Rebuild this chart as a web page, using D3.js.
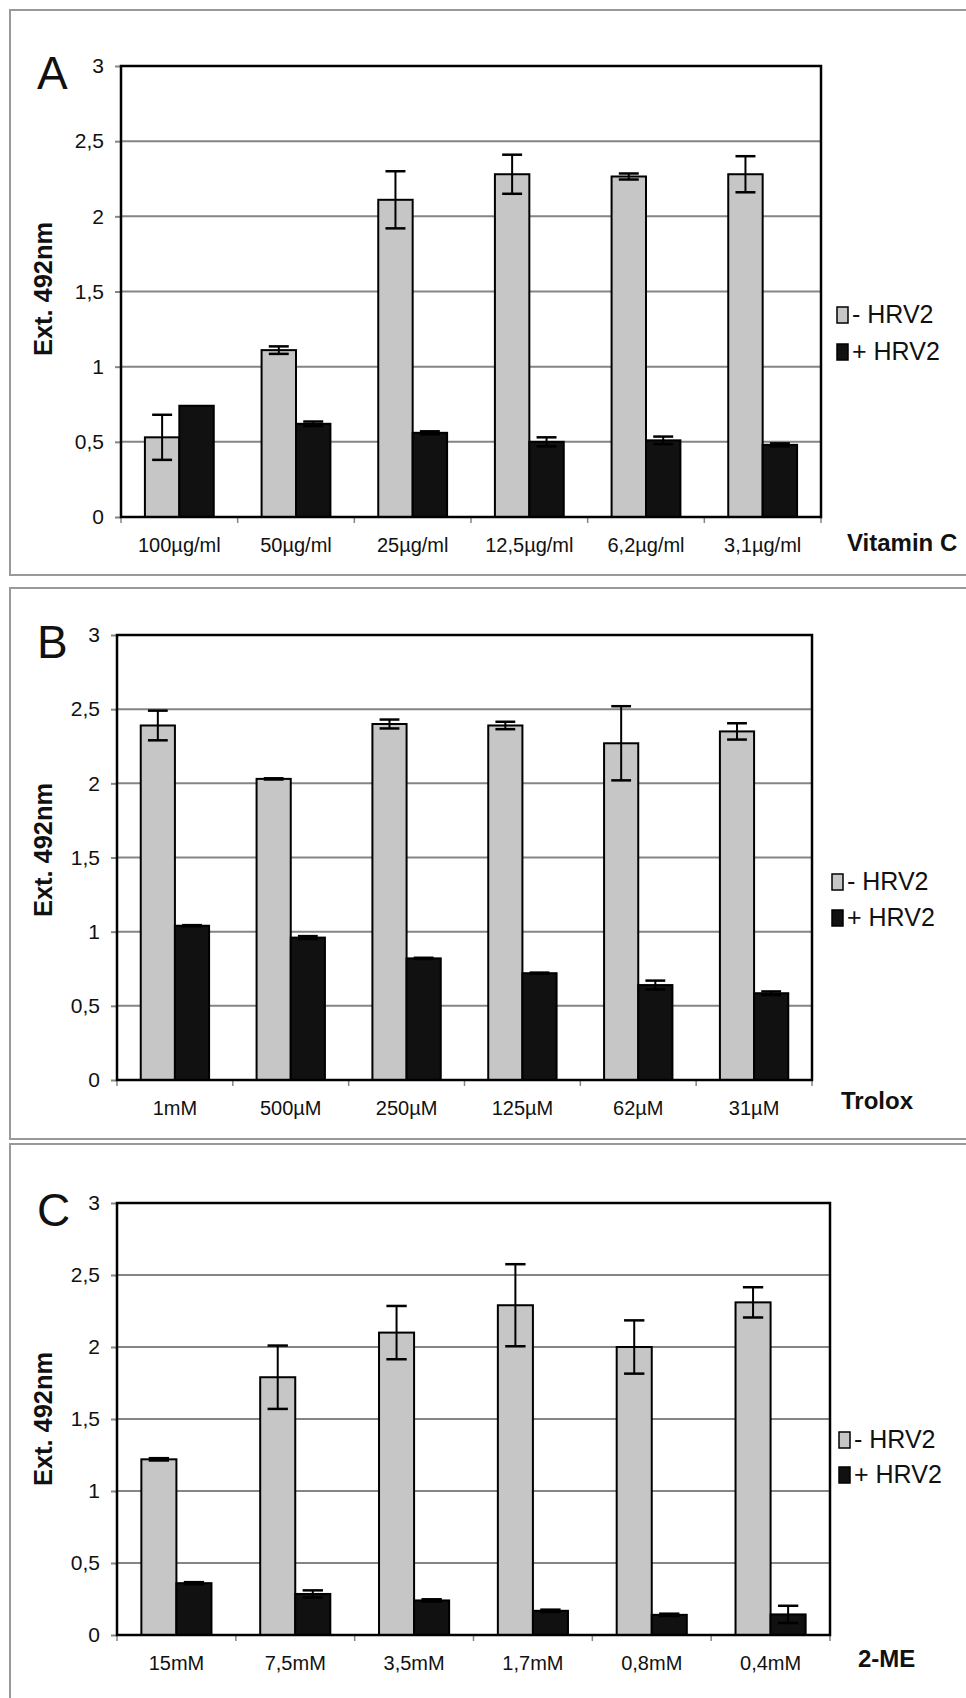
<!DOCTYPE html>
<html>
<head>
<meta charset="utf-8">
<script src="https://cdn.jsdelivr.net/npm/d3@7"></script>
<style>
  html, body { margin: 0; padding: 0; background: #fff; }
  svg { display: block; }
  text { font-family: "Liberation Sans", Arial, sans-serif; fill: #111; }
</style>
</head>
<body>
<svg id="chart" width="966" height="1698"></svg>
<script>
// ---------- DATA ----------
const seriesNames = ["- HRV2", "+ HRV2"];
const yTickValues = [0, 0.5, 1, 1.5, 2, 2.5, 3];
const yTickLabels = ["0", "0,5", "1", "1,5", "2", "2,5", "3"];

const catsA = ["100µg/ml", "50µg/ml", "25µg/ml", "12,5µg/ml", "6,2µg/ml", "3,1µg/ml"];
const minusA = [0.53, 1.11, 2.11, 2.28, 2.265, 2.28];
const minusErrA = [0.15, 0.025, 0.19, 0.13, 0.02, 0.12];
const plusA = [0.74, 0.62, 0.56, 0.50, 0.51, 0.48];
const plusErrA = [0, 0.015, 0.01, 0.03, 0.025, 0.01];

const catsB = ["1mM", "500µM", "250µM", "125µM", "62µM", "31µM"];
const minusB = [2.39, 2.03, 2.40, 2.39, 2.27, 2.35];
const minusErrB = [0.10, 0.004, 0.03, 0.025, 0.25, 0.055];
const plusB = [1.04, 0.96, 0.82, 0.72, 0.64, 0.585];
const plusErrB = [0.004, 0.01, 0.004, 0.004, 0.03, 0.012];

const catsC = ["15mM", "7,5mM", "3,5mM", "1,7mM", "0,8mM", "0,4mM"];
const minusC = [1.22, 1.79, 2.10, 2.29, 2.00, 2.31];
const minusErrC = [0.008, 0.22, 0.185, 0.285, 0.185, 0.105];
const plusC = [0.36, 0.285, 0.24, 0.168, 0.14, 0.143];
const plusErrC = [0.007, 0.025, 0.008, 0.008, 0.008, 0.06];

const panelLetters = ["A", "B", "C"];
const xAxisNames = ["Vitamin C", "Trolox", "2-ME"];
const yTitle = "Ext. 492nm";

// ---------- LAYOUT ----------
const panels = [
  { letter: panelLetters[0], name: xAxisNames[0], cats: catsA, minus: minusA, minusErr: minusErrA, plus: plusA, plusErr: plusErrA,
    frame: { top: 10, bottom: 575 }, plot: { left: 121, right: 821, top: 66, bottom: 517 },
    legend: { x: 837, b1: 323, b2: 360 }, nameX: 847, nameB: 551, titleY: 289 },
  { letter: panelLetters[1], name: xAxisNames[1], cats: catsB, minus: minusB, minusErr: minusErrB, plus: plusB, plusErr: plusErrB,
    frame: { top: 588, bottom: 1139 }, plot: { left: 117, right: 812, top: 635, bottom: 1080 },
    legend: { x: 832, b1: 890, b2: 926 }, nameX: 841, nameB: 1109, titleY: 850 },
  { letter: panelLetters[2], name: xAxisNames[2], cats: catsC, minus: minusC, minusErr: minusErrC, plus: plusC, plusErr: plusErrC,
    frame: { top: 1144, bottom: 1760 }, plot: { left: 117, right: 830, top: 1203, bottom: 1635 },
    legend: { x: 839, b1: 1448, b2: 1483 }, nameX: 858, nameB: 1667, titleY: 1419 }
];

const svg = d3.select("#chart");
const grayFill = "#c6c6c6";
const blackFill = "#111";
const FONT = '"Liberation Sans", Arial, sans-serif';

panels.forEach(p => {
  const g = svg.append("g");
  // panel frame (extends beyond right edge)
  g.append("rect")
    .attr("x", 10).attr("y", p.frame.top)
    .attr("width", 1000).attr("height", p.frame.bottom - p.frame.top)
    .attr("fill", "none").attr("stroke", "#999").attr("stroke-width", 2);

  const y = d3.scaleLinear().domain([0, 3]).range([p.plot.bottom, p.plot.top]);
  const x0 = d3.scaleBand().domain(p.cats).range([p.plot.left, p.plot.right]).paddingInner(0).paddingOuter(0);
  const band = x0.bandwidth();
  const barW = band * 0.295;
  const x1 = d3.scaleBand().domain(seriesNames).range([(band - 2 * barW) / 2, (band + 2 * barW) / 2]);

  // gridlines
  g.append("g").selectAll("line").data(yTickValues.slice(1, -1)).join("line")
    .attr("x1", p.plot.left).attr("x2", p.plot.right)
    .attr("y1", d => y(d)).attr("y2", d => y(d))
    .attr("stroke", "#858585").attr("stroke-width", 2);

  // y axis ticks & labels
  const yAxis = d3.axisLeft(y).tickValues(yTickValues)
    .tickFormat((d, i) => yTickLabels[i]).tickSize(6).tickPadding(11);
  const ya = g.append("g").attr("transform", `translate(${p.plot.left},0)`).call(yAxis);
  ya.select(".domain").remove();
  ya.selectAll(".tick line").attr("stroke", "#858585").attr("stroke-width", 2);
  ya.selectAll(".tick text").attr("font-size", 21).attr("fill", "#111").attr("font-family", FONT);

  // x axis labels, ticks at band boundaries
  const xAxis = d3.axisBottom(x0).tickSize(0).tickPadding(21);
  const xa = g.append("g").attr("transform", `translate(0,${p.plot.bottom})`).call(xAxis);
  xa.select(".domain").remove();
  xa.selectAll(".tick text").attr("font-size", 20).attr("fill", "#111").attr("font-family", FONT);
  const boundaries = p.cats.map(c => x0(c)).concat([p.plot.right]);
  g.append("g").selectAll("line").data(boundaries).join("line")
    .attr("x1", d => d).attr("x2", d => d)
    .attr("y1", p.plot.bottom).attr("y2", p.plot.bottom + 6)
    .attr("stroke", "#858585").attr("stroke-width", 1.5);

  // bars
  const rows = p.cats.map((c, i) => ({ c, s: [
    { name: seriesNames[0], v: p.minus[i], e: p.minusErr[i], fill: grayFill },
    { name: seriesNames[1], v: p.plus[i], e: p.plusErr[i], fill: blackFill }
  ] }));
  const cg = g.append("g").selectAll("g").data(rows).join("g")
    .attr("transform", d => `translate(${x0(d.c)},0)`);
  cg.selectAll("rect").data(d => d.s).join("rect")
    .attr("x", d => x1(d.name)).attr("width", x1.bandwidth())
    .attr("y", d => y(d.v)).attr("height", d => y(0) - y(d.v))
    .attr("fill", d => d.fill).attr("stroke", "#000").attr("stroke-width", 2);

  // error bars
  const capW = barW * 0.58;
  const cx = d => x1(d.name) + x1.bandwidth() / 2;
  const eg = cg.selectAll("g.err").data(d => d.s.filter(s => s.e > 0)).join("g").attr("class", "err");
  eg.append("line")
    .attr("x1", cx).attr("x2", cx)
    .attr("y1", d => y(d.v + d.e)).attr("y2", d => y(d.v - d.e))
    .attr("stroke", "#000").attr("stroke-width", 2);
  eg.append("line")
    .attr("x1", d => cx(d) - capW / 2).attr("x2", d => cx(d) + capW / 2)
    .attr("y1", d => y(d.v + d.e)).attr("y2", d => y(d.v + d.e))
    .attr("stroke", "#000").attr("stroke-width", 2.5);
  eg.append("line")
    .attr("x1", d => cx(d) - capW / 2).attr("x2", d => cx(d) + capW / 2)
    .attr("y1", d => y(d.v - d.e)).attr("y2", d => y(d.v - d.e))
    .attr("stroke", "#000").attr("stroke-width", 2.5);

  // plot area border
  g.append("rect")
    .attr("x", p.plot.left).attr("y", p.plot.top)
    .attr("width", p.plot.right - p.plot.left).attr("height", p.plot.bottom - p.plot.top)
    .attr("fill", "none").attr("stroke", "#000").attr("stroke-width", 2.5);

  // panel letter
  g.append("text").attr("x", 37).attr("y", p.plot.top + 23)
    .attr("font-size", 46).text(p.letter);

  // y title
  g.append("text")
    .attr("transform", `translate(52,${p.titleY}) rotate(-90)`)
    .attr("text-anchor", "middle").attr("font-size", 25).attr("font-weight", "bold")
    .attr("textLength", 134).attr("lengthAdjust", "spacingAndGlyphs")
    .text(yTitle);

  // x axis name
  g.append("text").attr("x", p.nameX).attr("y", p.nameB)
    .attr("font-size", 24).attr("font-weight", "bold").text(p.name);

  // legend
  const leg = [
    { name: seriesNames[0], fill: grayFill, b: p.legend.b1 },
    { name: seriesNames[1], fill: blackFill, b: p.legend.b2 }
  ];
  const lg = g.append("g").selectAll("g").data(leg).join("g");
  lg.append("rect").attr("x", p.legend.x).attr("y", d => d.b - 16)
    .attr("width", 11).attr("height", 16)
    .attr("fill", d => d.fill).attr("stroke", "#000").attr("stroke-width", 1.5);
  lg.append("text").attr("x", p.legend.x + 15).attr("y", d => d.b)
    .attr("font-size", 25).text(d => d.name);
});
</script>
</body>
</html>
